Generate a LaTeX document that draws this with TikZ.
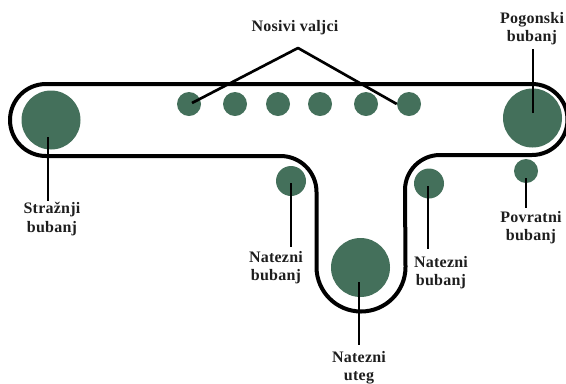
\documentclass[tikz,border=0pt]{standalone}
\usepackage{fontspec}
\setmainfont{Liberation Serif}
\newfontfamily\labelfont[LetterSpace=1.5]{Liberation Serif}
\definecolor{roll1}{RGB}{68,112,91}
\definecolor{ink1}{RGB}{30,30,30}
\tikzset{
  roll/.style={circle,fill=roll1,inner sep=0pt,minimum size=#1*0.75pt},
  belt/.style={line width=3pt,black,line join=round},
  lead/.style={line width=2pt,black},
  lbl/.style={inner sep=0pt,align=center,text=ink1,font=\labelfont\bfseries\fontsize{12}{13.6}\selectfont}
}
\begin{document}
\begin{tikzpicture}[x=0.75pt,y=-0.75pt]
  \def\w{566};
  \def\h{383};
  \def\rb{59};  
  \def\rn{30};  
  \def\rv{24};  
  \useasboundingbox (0,0) rectangle (\w,\h);
  \clip (0,0) rectangle (\w,\h);
  \node[roll=\rb] (rear) at (51,120) {};
  \node[roll=\rb] (drive) at (532.5,118) {};
  \node[roll=\rb] (weight) at (360.5,267.5) {};
  \node[roll=\rv] (idler1) at (189,104) {};
  \node[roll=\rv] (idler2) at (235,104) {};
  \node[roll=\rv] (idler3) at (278,104) {};
  \node[roll=\rv] (idler4) at (320,104) {};
  \node[roll=\rv] (idler5) at (366,104) {};
  \node[roll=\rv] (idler6) at (409,104) {};
  \node[roll=\rv] (return) at (526,171) {};
  \node[roll=\rn] (tensionl) at (291,181) {};
  \node[roll=\rn] (tensionr) at (429,183.5) {};
  \draw[belt] (46,84)--(532,84) arc[start angle=-90,end angle=90,radius=35.5]--(440,155)
    arc[start angle=-90,end angle=-180,radius=35]--(405.5,267)
    arc[start angle=0,end angle=180,radius=44.5]--(316.5,192)
    arc[start angle=0,end angle=-90,radius=36]--(46,156)
    arc[start angle=90,end angle=270,radius=36]--cycle;
  %labels
  \node[lbl] (nosivi) at (295,28) {Nosivi valjci};
  \node[lbl] (pogonski) at (532,29) {Pogonski\\bubanj};
  \node[lbl] (straznji) at (52,219) {Stražnji\\bubanj};
  \node[lbl] (povratni) at (531,227.5) {Povratni\\bubanj};
  \node[lbl] (nateznil) at (276,268) {Natezni\\bubanj};
  \node[lbl] (nateznir) at (441,272.5) {Natezni\\bubanj};
  \node[lbl] (uteg) at (359,368) {Natezni\\uteg};
  %leaders
  \coordinate (apex) at (298,48);
  \coordinate (rearin) at (48,137);
  \coordinate (drivein) at (533,113);
  \coordinate (returnin) at (526,178);
  \coordinate (tensionlin) at (291,183);
  \coordinate (tensionrin) at (428,186);
  \coordinate (weightin) at (359,282);
  \draw[lead,line join=bevel] (idler1.center)++(3,-1)--(apex)--(idler6.west);
  \draw[lead] (drivein)--++(0,-64);
  \draw[lead] (rearin)--++(0,64);
  \draw[lead] (returnin)--++(0,30);
  \draw[lead] (tensionlin)--++(0,64);
  \draw[lead] (tensionrin)--++(0,63);
  \draw[lead] (weightin)--++(0,63);
\end{tikzpicture}
\end{document}
